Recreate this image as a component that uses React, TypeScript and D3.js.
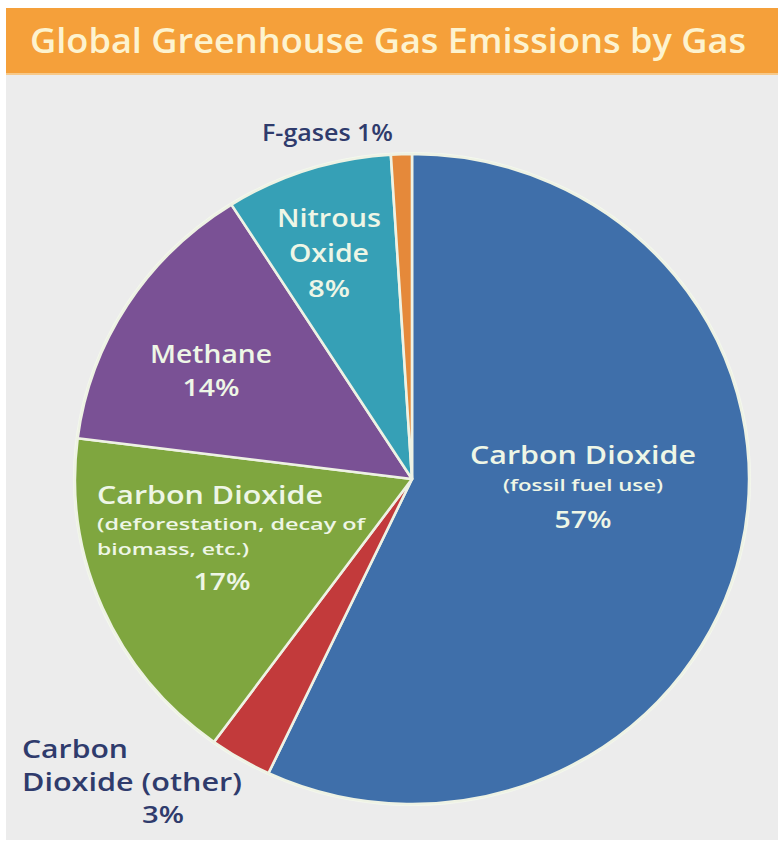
import React from "react";
import * as d3 from "d3";

const categories = [
  "Carbon Dioxide (fossil fuel use)",
  "Carbon Dioxide (other)",
  "Carbon Dioxide (deforestation, decay of biomass, etc.)",
  "Methane",
  "Nitrous Oxide",
  "F-gases",
];
const values = [57, 3, 17, 14, 8, 1];
const colors = ["#3f6faa", "#c23a3b", "#7fa63f", "#7a5195", "#36a0b6", "#e5893a"];

const W = 778;
const H = 841;
const cx = 412;
const cy = 479;
const rx = 337;
const ry = 325;

type Line = { t: string; x: number; y: number; size: number; anchor: string; len?: number; fill: string };

const light = "#eef6e6";
const dark = "#2f3b6c";

const labels: Line[] = [
  { t: "Carbon Dioxide", x: 583, y: 464, size: 25, anchor: "middle", len: 226, fill: light },
  { t: "(fossil fuel use)", x: 583, y: 491, size: 17, anchor: "middle", len: 160, fill: light },
  { t: "57%", x: 583, y: 528, size: 24, anchor: "middle", len: 57, fill: light },
  { t: "Carbon Dioxide", x: 97, y: 504, size: 25, anchor: "start", len: 226, fill: light },
  { t: "(deforestation, decay of", x: 97, y: 530, size: 17, anchor: "start", len: 268, fill: light },
  { t: "biomass, etc.)", x: 97, y: 555, size: 17, anchor: "start", len: 152, fill: light },
  { t: "17%", x: 222, y: 590, size: 24, anchor: "middle", len: 57, fill: light },
  { t: "Methane", x: 211, y: 363, size: 25, anchor: "middle", len: 122, fill: light },
  { t: "14%", x: 211, y: 396, size: 24, anchor: "middle", len: 57, fill: light },
  { t: "Nitrous", x: 329, y: 227, size: 25, anchor: "middle", len: 104, fill: light },
  { t: "Oxide", x: 329, y: 262, size: 25, anchor: "middle", len: 80, fill: light },
  { t: "8%", x: 329, y: 297, size: 24, anchor: "middle", len: 42, fill: light },
  { t: "F-gases 1%", x: 262, y: 141, size: 24, anchor: "start", len: 131, fill: dark },
  { t: "Carbon", x: 22, y: 758, size: 25, anchor: "start", len: 106, fill: dark },
  { t: "Dioxide (other)", x: 22, y: 791, size: 25, anchor: "start", len: 220, fill: dark },
  { t: "3%", x: 163, y: 823, size: 24, anchor: "middle", len: 42, fill: dark },
];

export default function App() {
  const pie = d3
    .pie<number>()
    .sort(null)
    .startAngle(0)
    .endAngle(2 * Math.PI)
    .value((d) => d);
  const arcs = pie(values);
  const arc = d3.arc<d3.PieArcDatum<number>>().innerRadius(0).outerRadius(ry);

  return (
    <svg
      width={W}
      height={H}
      style={{ position: "absolute", left: 0, top: 0, display: "block" }}
      fontFamily="'Open Sans', 'DejaVu Sans', sans-serif"
    >
      <rect x={0} y={0} width={W} height={H} fill="#ffffff" />
      <rect x={6} y={74} width={W - 6} height={766} fill="#ececec" />
      <rect x={6} y={8} width={W - 6} height={66} fill="#f5a03a" />
      <rect x={6} y={73} width={W - 6} height={2} fill="#f7c98a" />
      <text
        x={30}
        y={53}
        fontSize={34}
        fontWeight={600}
        fill="#fdf3cf"
        textLength={716}
        lengthAdjust="spacingAndGlyphs"
      >
        Global Greenhouse Gas Emissions by Gas
      </text>
      <g transform={`translate(${cx},${cy}) scale(${rx / ry},1)`}>
        <ellipse cx={0} cy={0} rx={ry + 2} ry={ry + 2} fill="#f4f8ee" />
        {arcs.map((a, i) => (
          <path
            key={categories[i]}
            d={arc(a) || ""}
            fill={colors[i]}
            stroke="#eef2e4"
            strokeWidth={2.5}
            strokeLinejoin="round"
          />
        ))}
      </g>
      {labels.map((l, i) => (
        <text
          key={i}
          x={l.x}
          y={l.y}
          fontSize={l.size}
          fontWeight={600}
          fill={l.fill}
          textAnchor={l.anchor}
          textLength={l.len}
          lengthAdjust="spacingAndGlyphs"
        >
          {l.t}
        </text>
      ))}
    </svg>
  );
}
